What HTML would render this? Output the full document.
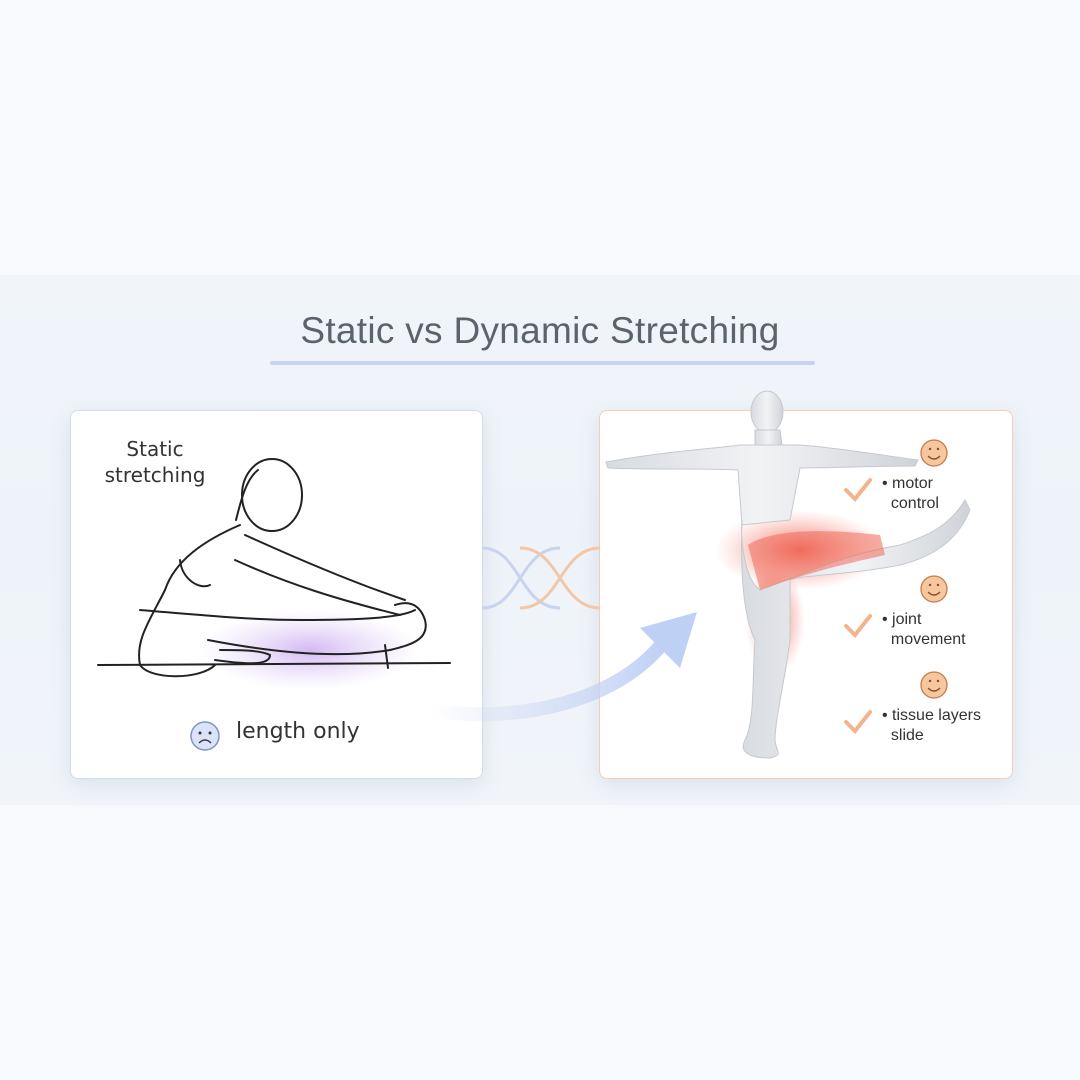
<!DOCTYPE html>
<html><head><meta charset="utf-8"><style>
body{margin:0;width:1080px;height:1080px;background:#f7f9fc;position:relative;overflow:hidden;font-family:"Liberation Sans",sans-serif}
.band{position:absolute;left:0;top:275px;width:1080px;height:530px;background:linear-gradient(#f1f5fa,#eef3f9 50%,#f1f5fa)}
.title{position:absolute;left:0;width:1080px;top:310px;text-align:center;font-size:37px;color:#5b636e;letter-spacing:0.3px}
.ul{position:absolute;left:270px;top:361px;width:545px;height:4px;border-radius:2px;background:#c8d4ef}
.card{position:absolute;top:410px;height:367px;background:#fff;border-radius:8px;box-shadow:0 6px 20px rgba(120,140,170,.18)}
.l{left:70px;width:411px;border:1.5px solid #d3dcef}
.r{left:599px;width:412px;border:1.5px solid #f3cfb6}
.hw{font-family:"DejaVu Sans",sans-serif;color:#222}
.txt{position:absolute;font-size:16px;color:#333;line-height:20px}
</style></head><body>
<div class="band"></div>
<div class="title">Static vs Dynamic Stretching</div>
<div class="ul"></div>
<div class="card l"></div>
<div class="card r"></div>
<svg width="1080" height="1080" style="position:absolute;left:0;top:0">
<defs>
<radialGradient id="pg"><stop offset="0" stop-color="#c9a8f0" stop-opacity=".8"/><stop offset="1" stop-color="#d9c5f5" stop-opacity="0"/></radialGradient>
<radialGradient id="rg"><stop offset="0" stop-color="#f05545" stop-opacity=".85"/><stop offset="1" stop-color="#f58a7a" stop-opacity="0"/></radialGradient>
<linearGradient id="ag" x1="0" x2="1"><stop offset="0" stop-color="#c9d6f3" stop-opacity="0"/><stop offset="1" stop-color="#bfd0f5"/></linearGradient>
<linearGradient id="bd" x1="0" x2="1"><stop offset="0" stop-color="#d8dbe0"/><stop offset=".5" stop-color="#f2f3f5"/><stop offset="1" stop-color="#cfd3d8"/></linearGradient>
</defs>
<!-- connectors -->
<path d="M482 548 C520 548 520 608 560 608" stroke="#c7d3ef" stroke-width="3" fill="none"/>
<path d="M482 608 C520 608 520 548 560 548" stroke="#c7d3ef" stroke-width="3" fill="none"/>
<path d="M600 548 C560 548 560 608 520 608" stroke="#f2c7a8" stroke-width="3" fill="none"/>
<path d="M600 608 C560 608 560 548 520 548" stroke="#f2c7a8" stroke-width="3" fill="none"/>
<!-- purple glow -->
<ellipse cx="310" cy="650" rx="110" ry="40" fill="url(#pg)"/>
<!-- seated figure -->
<g stroke="#222" stroke-width="2" fill="none" stroke-linecap="round">
<line x1="98" y1="665" x2="450" y2="663"/>
<path d="M258 470 C245 480 240 505 236 520"/>
<ellipse cx="272" cy="495" rx="30" ry="36"/>
<path d="M240 525 C205 540 175 560 165 590 C150 620 135 640 140 665 C150 680 200 680 215 665"/>
<path d="M245 535 C300 560 360 585 405 600"/>
<path d="M235 560 C290 585 340 600 400 615"/>
<path d="M140 610 C200 615 250 620 300 620 C360 620 400 618 415 610"/>
<path d="M208 640 C260 650 330 660 390 650 C410 645 430 640 425 620 C420 605 410 600 395 605"/>
<path d="M215 660 C250 665 270 665 270 655 C260 650 240 650 220 650"/>
<path d="M385 645 L388 668"/>
<path d="M180 560 C182 580 200 590 210 585"/>
</g>
<!-- sad face -->
<circle cx="205" cy="736" r="14" fill="#dbe3f8" stroke="#7f93c8" stroke-width="1.5"/>
<circle cx="200" cy="733" r="1.5" fill="#334"/><circle cx="210" cy="733" r="1.5" fill="#334"/>
<path d="M199 743 Q205 737 211 743" stroke="#334" stroke-width="1.5" fill="none"/>
<!-- arrow -->
<path d="M430 710 C520 725 620 700 665 640" stroke="url(#ag)" stroke-width="14" fill="none"/>
<polygon points="697,612 640,628 680,668" fill="#bfd0f5"/>
<!-- red glow -->
<ellipse cx="800" cy="550" rx="85" ry="40" fill="url(#rg)"/>
<ellipse cx="775" cy="620" rx="30" ry="55" fill="url(#rg)"/>
<!-- body -->
<g fill="url(#bd)" stroke="#c5c9cf" stroke-width="1">
<ellipse cx="767" cy="412" rx="16" ry="21"/>
<path d="M755 430 L780 430 L782 445 L755 445Z"/>
<path d="M606 462 C660 452 720 448 740 445 L800 445 C840 448 880 455 918 460 L915 466 C880 466 830 468 800 468 L790 520 L742 525 L738 470 C700 468 650 470 608 468Z"/>
<path d="M742 520 C740 540 745 580 760 590 C790 580 840 555 900 545 C930 535 950 525 965 500 L970 510 C960 535 940 555 900 565 C850 575 800 575 790 580 L790 640 C785 680 775 720 775 740 C775 750 785 755 770 758 C745 758 740 750 745 740 C755 720 752 680 755 640 C745 620 740 580 742 520Z"/>
</g>
<!-- muscle overlay -->
<path d="M748 545 C770 530 820 528 880 535 L885 555 C840 565 800 575 760 590Z" fill="#ee6a5a" opacity=".55"/>
<!-- smileys and checks -->
<g stroke="#c77a4a" stroke-width="1.3">
<circle cx="934" cy="453" r="13" fill="#f6c79d"/><circle cx="934" cy="589" r="13" fill="#f6c79d"/><circle cx="934" cy="685" r="13" fill="#f6c79d"/>
</g>
<g fill="none" stroke="#8a4a2a" stroke-width="1.3">
<path d="M928 456 Q934 462 940 456"/><path d="M928 592 Q934 598 940 592"/><path d="M928 688 Q934 694 940 688"/>
</g>
<g fill="#8a4a2a"><circle cx="930" cy="449" r="1.2"/><circle cx="938" cy="449" r="1.2"/><circle cx="930" cy="585" r="1.2"/><circle cx="938" cy="585" r="1.2"/><circle cx="930" cy="681" r="1.2"/><circle cx="938" cy="681" r="1.2"/></g>
<g fill="none" stroke="#f2b48d" stroke-width="4" stroke-linecap="round">
<path d="M846 490 L855 499 L870 480"/><path d="M846 626 L855 635 L870 616"/><path d="M846 722 L855 731 L870 712"/>
</g>
</svg>
<div class="txt hw" style="left:100px;top:436px;font-size:20px;line-height:26px;text-align:center;width:110px">Static<br>stretching</div>
<div class="txt hw" style="left:236px;top:722px;font-size:22px">length only</div>
<div class="txt" style="left:882px;top:474px">• motor<br>&nbsp;&nbsp;control</div>
<div class="txt" style="left:882px;top:610px">• joint<br>&nbsp;&nbsp;movement</div>
<div class="txt" style="left:882px;top:706px">• tissue layers<br>&nbsp;&nbsp;slide</div>
</body></html>
